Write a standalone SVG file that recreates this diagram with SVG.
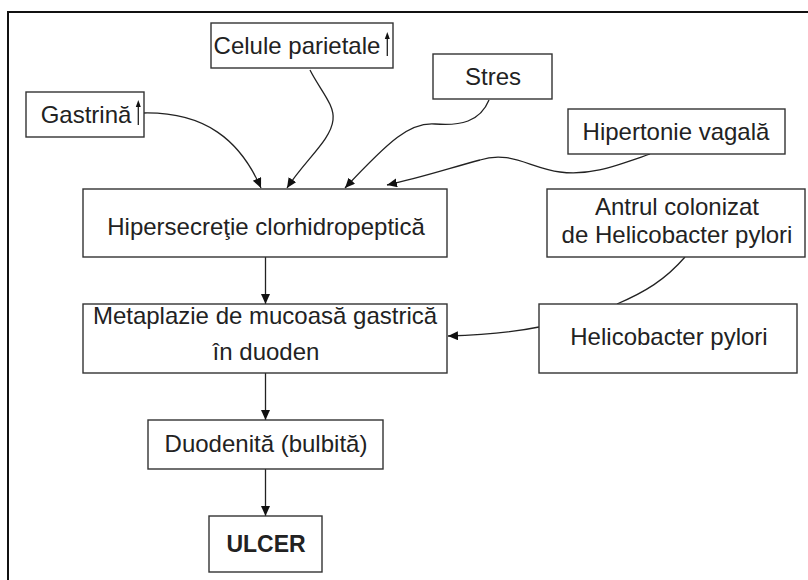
<svg xmlns="http://www.w3.org/2000/svg" width="808" height="580" viewBox="0 0 808 580">
<defs>
<style>
.box{fill:#fff;stroke:#333;stroke-width:1.4}
.t{font-family:"Liberation Sans",Arial,sans-serif;font-size:24px;fill:#222;text-anchor:middle}
.b{font-weight:bold;font-size:23px}
.c{fill:none;stroke:#222;stroke-width:1.3}
.up{stroke:#222;stroke-width:1.3}
</style>
<marker id="ah" markerUnits="userSpaceOnUse" markerWidth="11" markerHeight="10" refX="10" refY="4.5" orient="auto">
<path d="M0,0 L10,4.5 L0,9 z" fill="#111"/>
</marker>
</defs>
<rect width="808" height="580" fill="#fff"/>
<rect x="8" y="12" width="820" height="600" fill="none" stroke="#111" stroke-width="2"/>

<g id="connectors">
<path class="c" d="M144,113 C205,112 240,140 261,188" marker-end="url(#ah)"/>
<path class="c" d="M310,70 C320,90 335,105 333,120 C331,140 305,160 287,188" marker-end="url(#ah)"/>
<path class="c" d="M489,100 C480,122 460,126 435,124 C410,122 390,140 345,188" marker-end="url(#ah)"/>
<path class="c" d="M650,154 C615,166 590,176 560,172 C530,168 510,150 480,160 C450,168 420,178 387,185" marker-end="url(#ah)"/>
<path class="c" d="M685,257 C665,280 645,292 617,304"/>
<path class="c" d="M539,327 C510,333 480,335 448,336" marker-end="url(#ah)"/>
<line class="c" x1="265.5" y1="257" x2="265.5" y2="304" marker-end="url(#ah)"/>
<line class="c" x1="265.5" y1="373" x2="265.5" y2="420" marker-end="url(#ah)"/>
<line class="c" x1="265.5" y1="469" x2="265.5" y2="516" marker-end="url(#ah)"/>
</g>

<g id="celule">
<rect class="box" x="211" y="23" width="182" height="45"/>
<text class="t" x="297" y="54">Celule parietale</text>
<line class="up" x1="387.3" y1="38" x2="387.3" y2="56"/>
<path d="M384.8,39 L387.3,32 L389.8,39 z" fill="#111"/>
</g>

<g id="gastrina">
<rect class="box" x="26" y="92" width="118" height="45"/>
<text class="t" x="86" y="123">Gastrină</text>
<line class="up" x1="138.3" y1="106" x2="138.3" y2="125"/>
<path d="M135.8,107 L138.3,100 L140.8,107 z" fill="#111"/>
</g>

<g id="stres">
<rect class="box" x="433" y="54" width="119" height="45"/>
<text class="t" x="493" y="85">Stres</text>
</g>

<g id="hipertonie">
<rect class="box" x="568" y="109" width="217" height="45"/>
<text class="t" x="676" y="140">Hipertonie vagală</text>
</g>

<g id="hipersecretie">
<rect class="box" x="83" y="189" width="364" height="68"/>
<text class="t" x="266" y="235">Hipersecreţie clorhidropeptică</text>
</g>

<g id="antrul">
<rect class="box" x="547" y="189" width="258" height="68"/>
<text class="t" x="677" y="215">Antrul colonizat</text>
<text class="t" x="677" y="243">de Helicobacter pylori</text>
</g>

<g id="metaplazie">
<rect class="box" x="83" y="304" width="364" height="69"/>
<text class="t" x="265" y="324">Metaplazie de mucoasă gastrică</text>
<text class="t" x="266" y="360">în duoden</text>
</g>

<g id="helicobacter">
<rect class="box" x="539" y="304" width="258" height="69"/>
<text class="t" x="669" y="345">Helicobacter pylori</text>
</g>

<g id="duodenita">
<rect class="box" x="148" y="420" width="235" height="49"/>
<text class="t" x="266" y="452">Duodenită (bulbită)</text>
</g>

<g id="ulcer">
<rect class="box" x="209" y="516" width="113" height="56"/>
<text class="t b" x="266" y="552">ULCER</text>
</g>
</svg>
